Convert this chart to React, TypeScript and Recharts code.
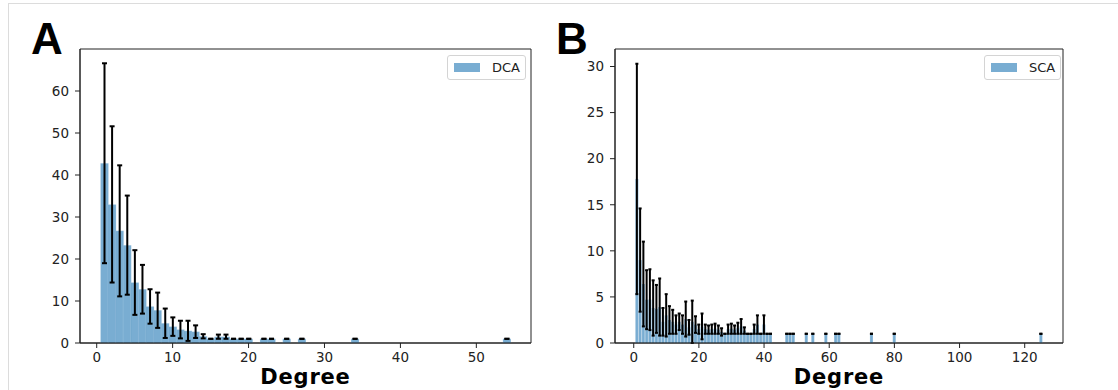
import { ComposedChart, Bar, ErrorBar, XAxis, YAxis, Legend, ReferenceArea } from "recharts";

// panel A: DCA degree histogram (mean count per degree, std error bar)
const degreesA = [1, 2, 3, 4, 5, 6, 7, 8, 9, 10, 11, 12, 13, 14, 15, 16, 17, 18, 19, 20, 22, 23, 25, 27, 34, 54];
const countsA = [42.8, 33.0, 26.7, 23.3, 14.4, 12.8, 8.7, 7.8, 4.7, 3.9, 3.2, 2.9, 2.7, 1.6, 1.0, 1.5, 1.5, 1.0, 1.0, 1.0, 1.0, 1.0, 1.0, 1.0, 1.0, 1.0];
const errA = [23.8, 18.6, 15.6, 11.8, 7.7, 5.8, 4.1, 4.2, 3.5, 2.2, 2.1, 2.4, 1.5, 0.5, 0, 0.5, 0.5, 0, 0, 0, 0, 0, 0, 0, 0, 0];

// panel B: SCA
const degreesB = [
  1, 2, 3, 4, 5, 6, 7, 8, 9, 10, 11, 12, 13, 14, 15, 16, 17, 18, 19, 20, 21,
  22, 23, 24, 25, 26, 27, 28, 29, 30, 31, 32, 33, 34, 35, 36, 37, 38, 39, 40, 41, 42,
  47, 48, 49, 53, 55, 59, 62, 63, 73, 80, 125,
];
const countsB = [
  17.8, 9.0, 6.4, 4.7, 4.7, 3.8, 3.7, 3.9, 2.3, 3.0, 2.5, 2.3, 2.0, 2.3, 2.0, 2.6, 1.7, 2.3, 2.0, 1.5, 1.8,
  1.5, 1.45, 1.5, 1.55, 1.45, 1.2, 1.0, 1.5, 1.55, 1.45, 1.6, 1.8, 1.35, 1.0, 1.0, 1.5, 2.0, 1.0, 2.0, 1.0, 1.0,
  1, 1, 1, 1, 1, 1, 1, 1, 1, 1, 1,
];
const errB = [
  12.5, 5.6, 4.6, 3.2, 3.3, 3.0, 2.6, 3.1, 1.5, 2.3, 1.5, 1.3, 1.0, 0.9, 1.0, 1.9, 0.8, 2.3, 0.9, 0.5, 1.4,
  0.5, 0.45, 0.5, 0.55, 0.45, 0.4, 0, 0.5, 0.55, 0.45, 0.6, 0.8, 0.35, 0, 0, 0.5, 1.0, 0, 1.0, 0, 0,
  0, 0, 0, 0, 0, 0, 0, 0, 0, 0, 0,
];

const ticksAx = [0, 10, 20, 30, 40, 50];
const ticksAy = [0, 10, 20, 30, 40, 50, 60];
const ticksBx = [0, 20, 40, 60, 80, 100, 120];
const ticksBy = [0, 5, 10, 15, 20, 25, 30];

const FONT = "'DejaVu Sans', sans-serif";
const INK = "#222";

const rows = (deg: number[], cnt: number[], err: number[]) =>
  deg.map((d, i) => ({ degree: d, count: cnt[i], err: [err[i], err[i]] }));

const LegendBox = ({ payload }: any) => {
  const item = payload && payload[0];
  return (
    <div
      style={{
        display: "flex",
        alignItems: "center",
        border: "1px solid #d4d4d4",
        borderRadius: 3,
        background: "#fff",
        padding: "0 5px 0 6px",
        height: 23,
        fontFamily: FONT,
        fontSize: 13,
        color: INK,
        whiteSpace: "nowrap",
      }}
    >
      <span style={{ display: "inline-block", width: 26, height: 9, background: "#1f77b4", opacity: 0.6, marginRight: 12 }} />
      {item ? item.value : ""}
    </div>
  );
};

interface PanelProps {
  name: string;
  data: { degree: number; count: number; err: number[] }[];
  xDomain: [number, number];
  yDomain: [number, number];
  xTicks: number[];
  yTicks: number[];
  left: number;
  marginLeft: number;
  marginRight: number;
  legendLeft: number;
  capWidth: number;
}

function Panel(p: PanelProps) {
  const tick = { fontFamily: FONT, fontSize: 13.5, fill: INK };
  return (
    <div style={{ position: "absolute", left: p.left, top: 0 }}>
      <ComposedChart
        width={559}
        height={390}
        data={p.data}
        barCategoryGap={0}
        barGap={0}
        margin={{ top: 49, right: p.marginRight, bottom: 0, left: p.marginLeft }}
      >
        <XAxis
          dataKey="degree"
          type="number"
          domain={p.xDomain}
          ticks={p.xTicks}
          allowDataOverflow
          height={47}
          tickSize={5}
          tickMargin={4}
          tick={tick}
          stroke={INK}
          label={{
            value: "Degree",
            position: "insideBottom",
            offset: 6,
            style: { fontFamily: FONT, fontSize: 21, letterSpacing: 0.8, fontWeight: "bold", fill: "#000" },
          }}
        />
        <YAxis
          type="number"
          domain={p.yDomain}
          ticks={p.yTicks}
          allowDataOverflow
          width={40}
          tickSize={5}
          tickMargin={6}
          tick={tick}
          stroke={INK}
        />
        <Legend
          layout="horizontal"
          verticalAlign="middle"
          align="center"
          content={<LegendBox />}
          wrapperStyle={{ left: p.legendLeft, top: 55, width: "auto", height: "auto" }}
        />
        <Bar
          dataKey="count"
          name={p.name}
          fill="#1f77b4"
          fillOpacity={0.6}
          stroke="#ffffff"
          strokeOpacity={0.35}
          strokeWidth={0.5}
          isAnimationActive={false}
        >
          <ErrorBar dataKey="err" direction="y" width={p.capWidth} strokeWidth={2} stroke="#000" />
        </Bar>
        {/* full frame like matplotlib spines */}
        <ReferenceArea
          x1={p.xDomain[0]}
          x2={p.xDomain[1]}
          y1={p.yDomain[0]}
          y2={p.yDomain[1]}
          fill="none"
          stroke={INK}
          strokeWidth={1}
          ifOverflow="visible"
        />
      </ComposedChart>
    </div>
  );
}

export default function App() {
  const letter = { position: "absolute" as const, top: 17, fontFamily: "'Liberation Sans', Arial, sans-serif", fontWeight: "bold" as const, fontSize: 44, lineHeight: "44px", color: "#000" };
  return (
    <div style={{ position: "absolute", left: 0, top: 0, width: 1118, height: 390, background: "#fff", overflow: "hidden" }}>
      <div style={{ position: "absolute", left: 8, top: 3, width: 1110, height: 387, borderTop: "1px solid #dcdcdc", borderLeft: "1px solid #dcdcdc" }} />
      <div style={{ ...letter, left: 31 }}>A</div>
      <div style={{ ...letter, left: 556 }}>B</div>
      <Panel
        name="DCA"
        data={rows(degreesA, countsA, errA)}
        xDomain={[-2.2, 57.2]}
        yDomain={[0, 70]}
        xTicks={ticksAx}
        yTicks={ticksAy}
        left={0}
        marginLeft={40}
        marginRight={28}
        legendLeft={447}
        capWidth={2.5}
      />
      <Panel
        name="SCA"
        data={rows(degreesB, countsB, errB)}
        xDomain={[-5.75, 131.75]}
        yDomain={[0, 31.9]}
        xTicks={ticksBx}
        yTicks={ticksBy}
        left={559}
        marginLeft={16}
        marginRight={55}
        legendLeft={425}
        capWidth={1.5}
      />
    </div>
  );
}
